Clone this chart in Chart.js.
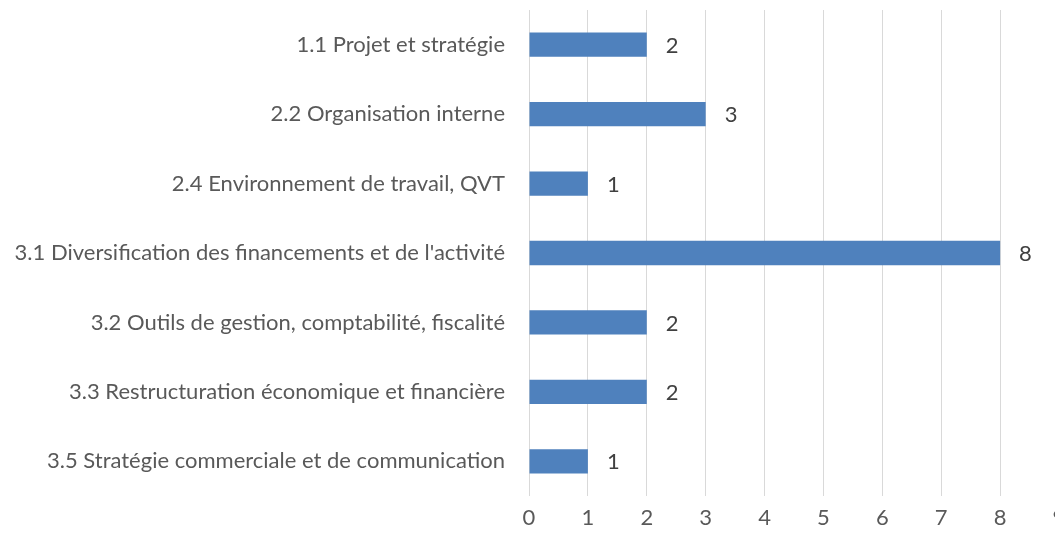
<!DOCTYPE html>
<html>
<head>
<meta charset="utf-8">
<script src="https://cdn.jsdelivr.net/npm/chart.js@4"></script>
<style>
  html, body { margin: 0; padding: 0; background: #fff; overflow: hidden; }
  #wrap { width: 1059px; height: 533px; position: relative; }
</style>
</head>
<body>
<div id="wrap"><canvas id="canvas"></canvas></div>
<script>
		var categories = [
			'1.1 Projet et stratégie',
			'2.2 Organisation interne',
			'2.4 Environnement de travail, QVT',
			"3.1 Diversification des financements et de l'activité",
			'3.2 Outils de gestion, comptabilité, fiscalité',
			'3.3 Restructuration économique et financière',
			'3.5 Stratégie commerciale et de communication'
		];
		var counts = [2, 3, 1, 8, 2, 2, 1];
		var xTicks = [0, 1, 2, 3, 4, 5, 6, 7, 8, 9];

		var fontFamily = 'Lato';
		var fontSize = 22;

		// draws the value next to each bar
		var valueLabels = {
			id: 'valueLabels',
			afterDatasetsDraw: function(chart) {
				var ctx = chart.ctx;
				var meta = chart.getDatasetMeta(0);
				ctx.save();
				ctx.font = fontSize + 'px ' + fontFamily;
				ctx.fillStyle = '#404040';
				ctx.textAlign = 'left';
				ctx.textBaseline = 'middle';
				meta.data.forEach(function(bar, i) {
					ctx.fillText(counts[i], bar.x + 19, bar.y + 1);
				});
				ctx.restore();
			}
		};

		window.onload = function() {
			var ctx = document.getElementById('canvas').getContext('2d');
			window.myBar = new Chart(ctx, {
				type: 'bar',
				data: {
					labels: categories,
					datasets: [{
						data: counts,
						backgroundColor: '#4f81bd',
						borderColor: '#4f81bd',
						borderWidth: 0,
						barPercentage: 0.7,
						categoryPercentage: 0.5
					}]
				},
				plugins: [valueLabels],
				options: {
					indexAxis: 'y',
					responsive: true,
					maintainAspectRatio: false,
					animation: false,
					layout: { padding: { top: 10, right: 0, bottom: 0, left: 0 } },
					plugins: {
						legend: { display: false },
						tooltip: { enabled: false }
					},
					scales: {
						x: {
							min: 0,
							max: 9,
							afterBuildTicks: function(scale) {
								scale.ticks = xTicks.map(function(v) { return { value: v }; });
							},
							afterFit: function(scale) {
								scale.height = 37;
								scale.paddingLeft = 0;
								scale.paddingRight = 0;
							},
							grid: { color: '#d9d9d9', lineWidth: 1, drawTicks: false },
							border: { display: false },
							ticks: {
								color: '#595959',
								font: { family: fontFamily, size: fontSize },
								padding: 9
							}
						},
						y: {
							grid: { display: false },
							border: { display: false },
							afterFit: function(scale) {
								scale.width = 529;
								scale.paddingTop = 0;
								scale.paddingBottom = 0;
							},
							ticks: {
								color: '#595959',
								font: { family: fontFamily, size: fontSize },
								padding: 16
							}
						}
					}
				}
			});
		};
</script>
</body>
</html>
